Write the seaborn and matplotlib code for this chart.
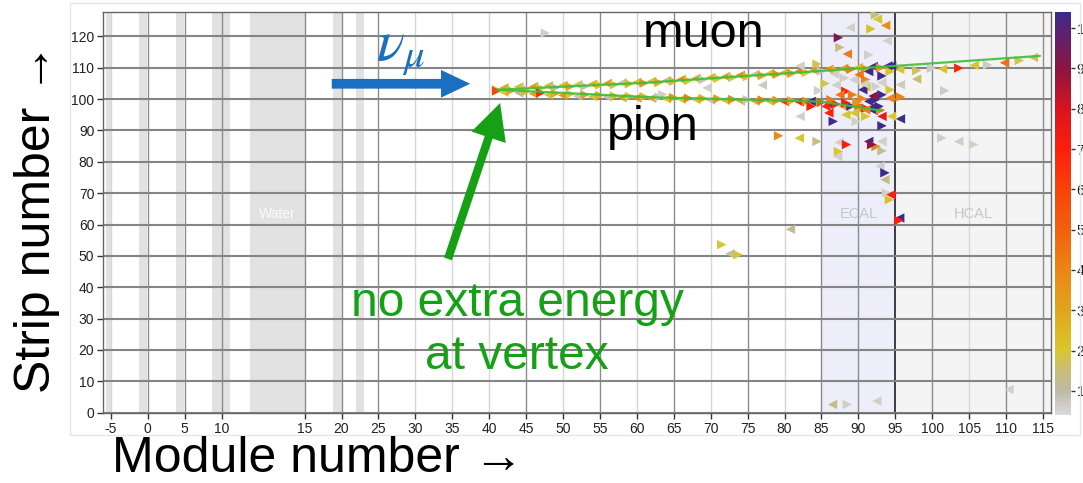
import numpy as np
import pandas as pd
import matplotlib
matplotlib.use("Agg")
import matplotlib.pyplot as plt
from matplotlib.colors import LinearSegmentedColormap, Normalize
from matplotlib.patches import FancyArrowPatch, Rectangle
from matplotlib.cm import ScalarMappable
import seaborn as sns

# ---------------- event data ----------------
# muon track hits (module, strip, energy)
muon_module = [41, 42, 43, 44, 45, 46, 47, 48, 49, 50,
               51, 52, 53, 54, 55, 56, 57, 58, 59, 60,
               61, 62, 63, 64, 65, 66, 67, 68, 69, 70,
               71, 72, 73, 74, 75, 76, 77, 78, 79, 80,
               81, 82, 83, 84, 85, 86, 87, 88, 89, 90,
               91, 92, 93, 94]
muon_strip = [103.0, 103.6, 102.8, 103.9, 103.3, 104.0, 103.5, 104.2, 103.7, 104.4,
              104.0, 104.6, 104.1, 104.8, 104.5, 105.0, 104.6, 105.2, 104.9, 105.4,
              105.1, 105.7, 105.3, 105.9, 105.7, 106.3, 105.9, 106.6, 106.2, 106.9,
              106.6, 107.2, 106.9, 107.6, 107.2, 107.9, 107.5, 108.2, 107.9, 108.5,
              108.2, 108.9, 108.5, 109.2, 108.9, 109.5, 109.1, 109.8, 109.5, 110.1,
              109.7, 110.4, 110.0, 110.6]
muon_energy = [2.2, 2.9, 1.7, 2.4, 0.8, 3.2, 1.9, 2.6, 1.0, 2.2,
               3.0, 1.9, 0.9, 2.7, 2.1, 3.4, 1.8, 0.8, 2.5, 2.2,
               3.5, 1.9, 2.8, 1.1, 2.4, 3.7, 2.0, 3.2, 0.8, 2.6,
               2.1, 3.4, 1.8, 3.9, 2.3, 0.9, 3.0, 2.0, 3.6, 2.4,
               3.2, 4.1, 1.9, 3.5, 0.8, 3.8, 2.5, 3.3, 4.2, 2.2,
               3.0, 10.5, 3.6, 10.5]

# pion track hits
pion_module = [41, 42, 43, 44, 45, 46, 47, 48, 49, 50,
               51, 52, 53, 54, 55, 56, 57, 58, 59, 60,
               61, 62, 63, 64, 65, 66, 67, 68, 69, 70,
               71, 72, 73, 74, 75, 76, 77, 78, 79, 80,
               81, 82, 83, 84, 85, 86, 87, 88, 89, 90,
               91, 92, 93]
pion_strip = [102.6, 102.2, 102.7, 102.0, 102.4, 101.7, 102.0, 101.4, 101.8, 101.2,
              101.6, 101.0, 101.4, 100.8, 101.2, 100.7, 101.0, 100.5, 100.9, 100.4,
              100.8, 100.3, 100.6, 100.1, 100.5, 100.0, 100.3, 99.9, 100.2, 99.7,
              100.1, 99.6, 99.9, 99.5, 99.8, 99.4, 99.7, 99.3, 99.6, 99.2,
              99.5, 99.1, 99.3, 98.9, 99.0, 98.4, 98.4, 97.7, 97.8, 97.0,
              97.1, 96.4, 96.5]
pion_energy = [5.8, 2.0, 2.9, 1.0, 2.3, 3.2, 6.8, 1.9, 2.7, 3.6,
               2.1, 0.8, 3.0, 1.8, 2.6, 0.9, 2.2, 3.3, 1.9, 3.8,
               2.4, 3.1, 0.8, 2.0, 3.5, 2.3, 4.0, 1.9, 2.8, 0.9,
               3.4, 2.2, 3.7, 2.6, 0.8, 3.1, 4.2, 2.0, 3.5, 6.5,
               2.9, 7.0, 3.8, 2.4, 5.5, 10.5, 6.8, 3.6, 10.5, 3.2,
               7.2, 10.5, 4.1]

# remaining hits: muon in HCAL, calorimeter shower and isolated hits
other_module = [95.6, 97.9, 97.9, 99.9, 101.4, 103.6, 105.7, 107.5, 109.8, 111.8, 113.7,
                101.7, 95.7, 95.7, 95.7, 101.3, 103.6, 105.6, 95.6, 95.5, 110.4,
                92.3, 93.7, 91.7, 88.9, 87.3, 93.9, 87.5, 88.5, 91.4, 92.6,
                84.4, 82.1, 47.6, 69.5, 84.6, 82.1, 79.2, 82.0, 84.4, 80.8,
                71.5, 72.6, 73.7, 77.0, 63.5,
                87.4, 87.3, 87.2, 88.4, 91.4, 92.4, 93.2, 93.2, 92.9, 93.6,
                93.6, 93.8, 94.4, 94.2, 86.5, 88.5, 92.5, 91.8,
                91.4, 93.2, 94.5, 94.3, 89.4, 91.0, 90.1, 88.1, 93.2, 94.3,
                91.0, 88.3, 90.6, 89.2, 87.5, 93.2, 94.3, 86.3, 83.6, 83.6,
                85.6, 88.3, 91.4, 92.3, 91.7, 92.8, 91.0, 90.1, 89.4, 86.6,
                86.0, 89.7, 93.2, 93.2, 94.5, 91.0, 88.3, 90.5, 92.0, 89.8,
                87.0, 85.5, 86.8, 92.4, 90.8]
other_strip = [109.5, 109.1, 106.4, 109.8, 109.6, 109.9, 110.8, 110.9, 111.6, 112.3, 113.3,
               102.7, 104.6, 100.7, 93.7, 87.6, 86.5, 85.5, 62.1, 61.3, 7.4,
               126.9, 123.5, 122.4, 122.8, 119.6, 118.6, 116.5, 114.4, 114.1, 125.5,
               111.2, 110.6, 121.1, 103.6, 102.7, 94.5, 88.3, 87.6, 86.5, 58.5,
               53.6, 50.7, 50.4, 104.5, 101.5,
               86.2, 83.3, 81.7, 85.5, 86.5, 84.9, 86.5, 83.5, 78.6, 76.5,
               74.3, 70.1, 69.5, 67.9, 2.6, 2.6, 3.7, 85.5,
               108.8, 107.4, 110.6, 108.8, 106.2, 106.2, 107.8, 106.7, 105.3, 103.0,
               103.9, 102.5, 103.0, 101.4, 101.4, 101.4, 100.3, 99.8, 99.3, 97.7,
               97.7, 98.8, 99.3, 99.8, 97.2, 97.7, 96.6, 97.9, 95.6, 92.9,
               95.6, 92.9, 94.5, 91.5, 94.5, 94.5, 95.0, 100.2, 101.0, 99.0,
               104.5, 105.0, 108.0, 104.0, 104.8]
other_energy = [2.0, 1.7, 1.6, 0.7, 2.1, 6.8, 2.0, 0.7, 4.6, 1.8, 1.7,
                0.7, 0.7, 4.0, 10.5, 0.6, 0.6, 0.6, 10.5, 7.0, 0.6,
                1.4, 3.8, 2.2, 0.6, 9.3, 0.6, 1.4, 4.2, 0.6, 2.0,
                1.8, 0.6, 0.6, 0.6, 0.6, 0.6, 3.8, 2.0, 1.3, 1.2,
                2.0, 0.9, 2.0, 0.7, 0.6,
                0.6, 2.0, 0.6, 7.0, 10.5, 4.0, 0.6, 1.3, 0.6, 10.5,
                1.4, 0.6, 7.0, 2.2, 1.4, 0.6, 0.6, 9.0,
                10.5, 10.5, 10.5, 2.2, 0.6, 4.0, 4.5, 0.6, 0.6, 2.0,
                2.2, 7.0, 10.5, 4.3, 4.5, 10.5, 4.0, 4.4, 10.5, 7.0,
                6.8, 7.2, 10.5, 10.5, 10.5, 10.5, 4.2, 4.5, 2.0, 10.5,
                7.0, 0.6, 7.5, 10.5, 2.0, 2.0, 2.0, 4.0, 9.0, 3.5,
                0.6, 1.8, 0.6, 0.6, 0.6]

# reconstructed track fits
muon_fit_module = [41.2, 61.0, 95.0, 114.6]
muon_fit_strip = [103.0, 105.2, 110.6, 113.8]
pion_fit_module = [41.2, 62.0, 85.0, 93.2]
pion_fit_strip = [103.0, 100.6, 99.2, 96.3]

# detector regions
passive_bands = [(-5.6, -5.0), (-1.2, -0.1), (3.8, 4.9), (8.7, 10.5),
                 (11.7, 15.0), (18.9, 20.0), (21.9, 23.1)]
ecal_range = (85, 95)
hcal_range = (95, 116.1)

x_ticks = [-5, 0, 5, 10, 15, 20, 25, 30, 35, 40, 45, 50, 55, 60, 65, 70,
           75, 80, 85, 90, 95, 100, 105, 110, 115]
y_ticks = [0, 10, 20, 30, 40, 50, 60, 70, 80, 90, 100, 110, 120]
cbar_ticks = [1, 2, 3, 4, 5, 6, 7, 8, 9, 10]

# ---------------- styling ----------------
sns.set_theme(style="white")
plt.rcParams["font.family"] = ["Liberation Sans", "DejaVu Sans"]
plt.rcParams["mathtext.fontset"] = "stix"

energy_cmap = LinearSegmentedColormap.from_list(
    "energy",
    [(0.00, "#d9d9d9"), (0.06, "#bdb9a6"), (0.12, "#cbc06a"),
     (0.16, "#d8c82a"), (0.26, "#e2a41c"), (0.36, "#ec8514"),
     (0.46, "#f2600e"), (0.56, "#f8420a"), (0.66, "#ff1e0c"),
     (0.76, "#d8141e"), (0.86, "#8e1440"), (1.00, "#3e2a8c")])
energy_norm = Normalize(vmin=0.4, vmax=10.4)

# piecewise x scale: the water target region (modules 10-15) is stretched
stretch = 2.25
fwd_pts = ([-1000.0, 10.0, 15.0, 1000.0],
           [-1000.0, 10.0, 10.0 + 5 * stretch, 1000.0 + 5 * (stretch - 1)])


def x_forward(x):
    return np.interp(x, fwd_pts[0], fwd_pts[1])


def x_inverse(x):
    return np.interp(x, fwd_pts[1], fwd_pts[0])


hits = pd.DataFrame({
    "module": muon_module + pion_module + other_module,
    "strip": muon_strip + pion_strip + other_strip,
    "energy": muon_energy + pion_energy + other_energy,
})
hits["pointing"] = np.where(np.arange(len(hits)) % 2 == 0, ">", "<")

fig = plt.figure(figsize=(10.83, 4.83), dpi=100)
ax = fig.add_axes([0.0948, 0.1443, 0.8757, 0.8309])
ax.set_facecolor("white")

# outer panel border
fig.patches.append(Rectangle((70 / 1083, 48 / 483), 1010 / 1083, 432 / 483,
                             transform=fig.transFigure, fill=False,
                             edgecolor="#e6e6e6", lw=1.0, zorder=0))

# regions
for lo, hi in passive_bands:
    ax.axvspan(lo, hi, color="#e2e2e2", lw=0, zorder=0)
ax.axvspan(*ecal_range, color="#eeeefb", lw=0, zorder=0)
ax.axvspan(*hcal_range, color="#f4f4f4", lw=0, zorder=0)

# grid
dark_cols = {0, 5, 10, 15, 20, 25, 45, 55, 65, 75, 85, 90, 100, 110, 115}
for xv in x_ticks:
    if xv == 95:
        ax.axvline(xv, color="#1e1e1e", lw=1.2, zorder=1)
    elif xv in dark_cols:
        ax.axvline(xv, color="#8c8c8c", lw=1.0, zorder=1)
    else:
        ax.axvline(xv, color="#d6d6d6", lw=1.0, zorder=1)
for yv in y_ticks:
    ax.axhline(yv, color="#858585", lw=1.5, zorder=1)

# region labels
ax.text(13.35, 63.5, "Water", color="#fbfbfb", fontsize=10, ha="center", va="center", zorder=2)
ax.text(90, 63.5, "ECAL", color="#c6c6c6", fontsize=10.5, ha="center", va="center", zorder=2)
ax.text(105.5, 63.5, "HCAL", color="#c6c6c6", fontsize=10.5, ha="center", va="center", zorder=2)

# hits
sns.scatterplot(data=hits, x="module", y="strip", hue="energy",
                hue_norm=energy_norm, palette=energy_cmap,
                style="pointing", markers={">": ">", "<": "<"},
                s=46, linewidth=0, legend=False, ax=ax, zorder=3)

# track fits
sns.lineplot(x=muon_fit_module, y=muon_fit_strip, color="#3cbf3c", lw=1.6,
             alpha=0.9, sort=False, ax=ax, zorder=4)
sns.lineplot(x=pion_fit_module, y=pion_fit_strip, color="#3cbf3c", lw=1.6,
             alpha=0.9, sort=False, ax=ax, zorder=4)

ax.set_xscale("function", functions=(x_forward, x_inverse))
ax.set_xlim(-6.1, 116.1)
ax.set_ylim(-0.2, 127.8)
ax.set_xticks(x_ticks)
ax.set_yticks(y_ticks)
ax.set_xticklabels([str(v) for v in x_ticks])
ax.set_xlabel("")
ax.set_ylabel("")
ax.tick_params(axis="both", which="both", direction="out", length=4, width=1,
               color="#333333", labelsize=10, labelcolor="#222222", pad=2)
ax.tick_params(axis="x", bottom=True)
ax.tick_params(axis="y", left=True)
ax.minorticks_off()
for side in ["left", "bottom", "top", "right"]:
    ax.spines[side].set_color("#666666")
    ax.spines[side].set_linewidth(1.0)

# annotations
ax.add_patch(FancyArrowPatch((18.3, 104.9), (37.8, 104.9),
                             arrowstyle="simple,head_length=21,head_width=20,tail_width=7",
                             mutation_scale=1, color="#1a6fc0", lw=0, zorder=6))
ax.text(28.0, 115.5, r"$\nu_\mu$", color="#1a6fc0", fontsize=42,
        ha="center", va="center", zorder=6)
ax.add_patch(FancyArrowPatch((34.3, 48.2), (41.6, 99.6),
                             arrowstyle="simple,head_length=26,head_width=26,tail_width=6",
                             mutation_scale=1, color="#16a016", lw=0, zorder=6))
ax.text(69.0, 120.5, "muon", color="black", fontsize=35, ha="center", va="center", zorder=6)
ax.text(62.2, 90.8, "pion", color="black", fontsize=35, ha="center", va="center", zorder=6)
ax.text(43.8, 34.8, "no extra energy", color="#16a016", fontsize=34.5,
        ha="center", va="center", zorder=6)
ax.text(43.8, 18.0, "at vertex", color="#16a016", fontsize=34.5,
        ha="center", va="center", zorder=6)

fig.text(37 / 1083, 1 - 218 / 483, "Strip number \u2192", rotation=90,
         fontsize=36, ha="center", va="center", color="black")
fig.text(318 / 1083, 11 / 483, "Module number \u2192",
         fontsize=36, ha="center", va="baseline", color="black")

# colour scale
cax = fig.add_axes([0.9741, 0.1408, 0.0148, 0.8344])
cb = fig.colorbar(ScalarMappable(norm=energy_norm, cmap=energy_cmap), cax=cax,
                  ticks=cbar_ticks)
cb.outline.set_visible(False)
cax.tick_params(direction="out", length=3, width=1, color="#333333",
                labelsize=10, labelcolor="#222222", pad=1)

fig.savefig("out.png", dpi=100)
